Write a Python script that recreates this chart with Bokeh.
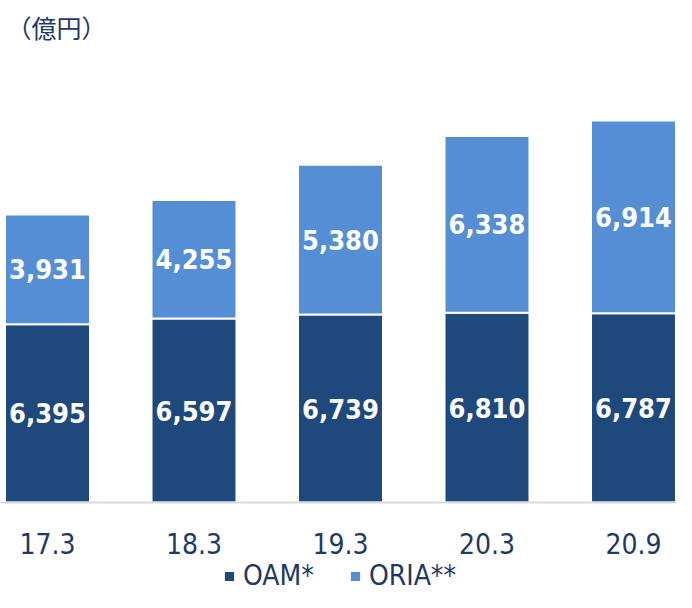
from bokeh.plotting import figure
from bokeh.models import ColumnDataSource, Legend, LegendItem, Span, Label
from bokeh.core.properties import value
from bokeh.embed import file_html
from bokeh.resources import INLINE

# ---- data ----
categories = ["17.3", "18.3", "19.3", "20.3", "20.9"]
oam = [6395, 6597, 6739, 6810, 6787]
oria = [3931, 4255, 5380, 6338, 6914]
series_names = ["OAM*", "ORIA**"]
unit_label = "（億円）"

DARK = "#1F497D"
LIGHT = "#558ED5"
NAVY = "#1F3864"

xs = list(range(len(categories)))
src = ColumnDataSource(dict(x=xs, oam=oam, oria=oria))

lab_x = xs + xs
lab_y = [v / 2 for v in oam] + [a + b / 2 for a, b in zip(oam, oria)]
lab_t = [f"{v:,}" for v in oam] + [f"{v:,}" for v in oria]
lab_src = ColumnDataSource(dict(x=lab_x, y=lab_y, t=lab_t))
cat_src = ColumnDataSource(dict(x=xs, y=[0] * len(xs), t=categories))

p = figure(width=676, height=592, output_backend="svg", toolbar_location=None,
           x_range=(-0.3208, 4.2935), y_range=(-3228, 18006),
           x_axis_location=None, y_axis_location=None, min_border=0)

rs = p.vbar_stack(["oam", "oria"], x="x", width=0.58, source=src,
                  color=[DARK, LIGHT], line_color="white", line_width=2)

p.text(x="x", y="y", text="t", source=lab_src,
       text_font=value("DejaVu Sans Condensed"), text_font_style="bold",
       text_font_size="27px", text_color="white",
       text_align="center", text_baseline="middle")

# category labels under the baseline
p.text(x="x", y="y", text="t", source=cat_src, y_offset=41,
       text_font=value("DejaVu Sans Condensed"), text_font_size="28px",
       text_color=NAVY, text_align="center", text_baseline="middle")

p.add_layout(Span(location=0, dimension="width", line_color="#D9D9D9", line_width=2))

p.add_layout(Label(text=unit_label, x=6, y=584, x_units="screen", y_units="screen",
                   text_font="Noto Sans CJK JP", text_font_size="25px",
                   text_color=NAVY, text_baseline="top", text_align="left"))

p.xgrid.visible = False
p.ygrid.visible = False
p.outline_line_color = None

lg = Legend(items=[LegendItem(label=n, renderers=[r]) for n, r in zip(series_names, rs)])
lg.orientation = "horizontal"
lg.location = (222, 0)
lg.border_line_color = None
lg.background_fill_alpha = 0
lg.glyph_width = 14
lg.glyph_height = 14
lg.label_text_font = "DejaVu Sans Condensed"
lg.label_text_font_size = "28px"
lg.label_text_color = NAVY
lg.label_standoff = 7
lg.spacing = 34
lg.padding = 0
lg.margin = 0
p.add_layout(lg, "center")

open("out.html", "w").write(file_html(p, INLINE))
